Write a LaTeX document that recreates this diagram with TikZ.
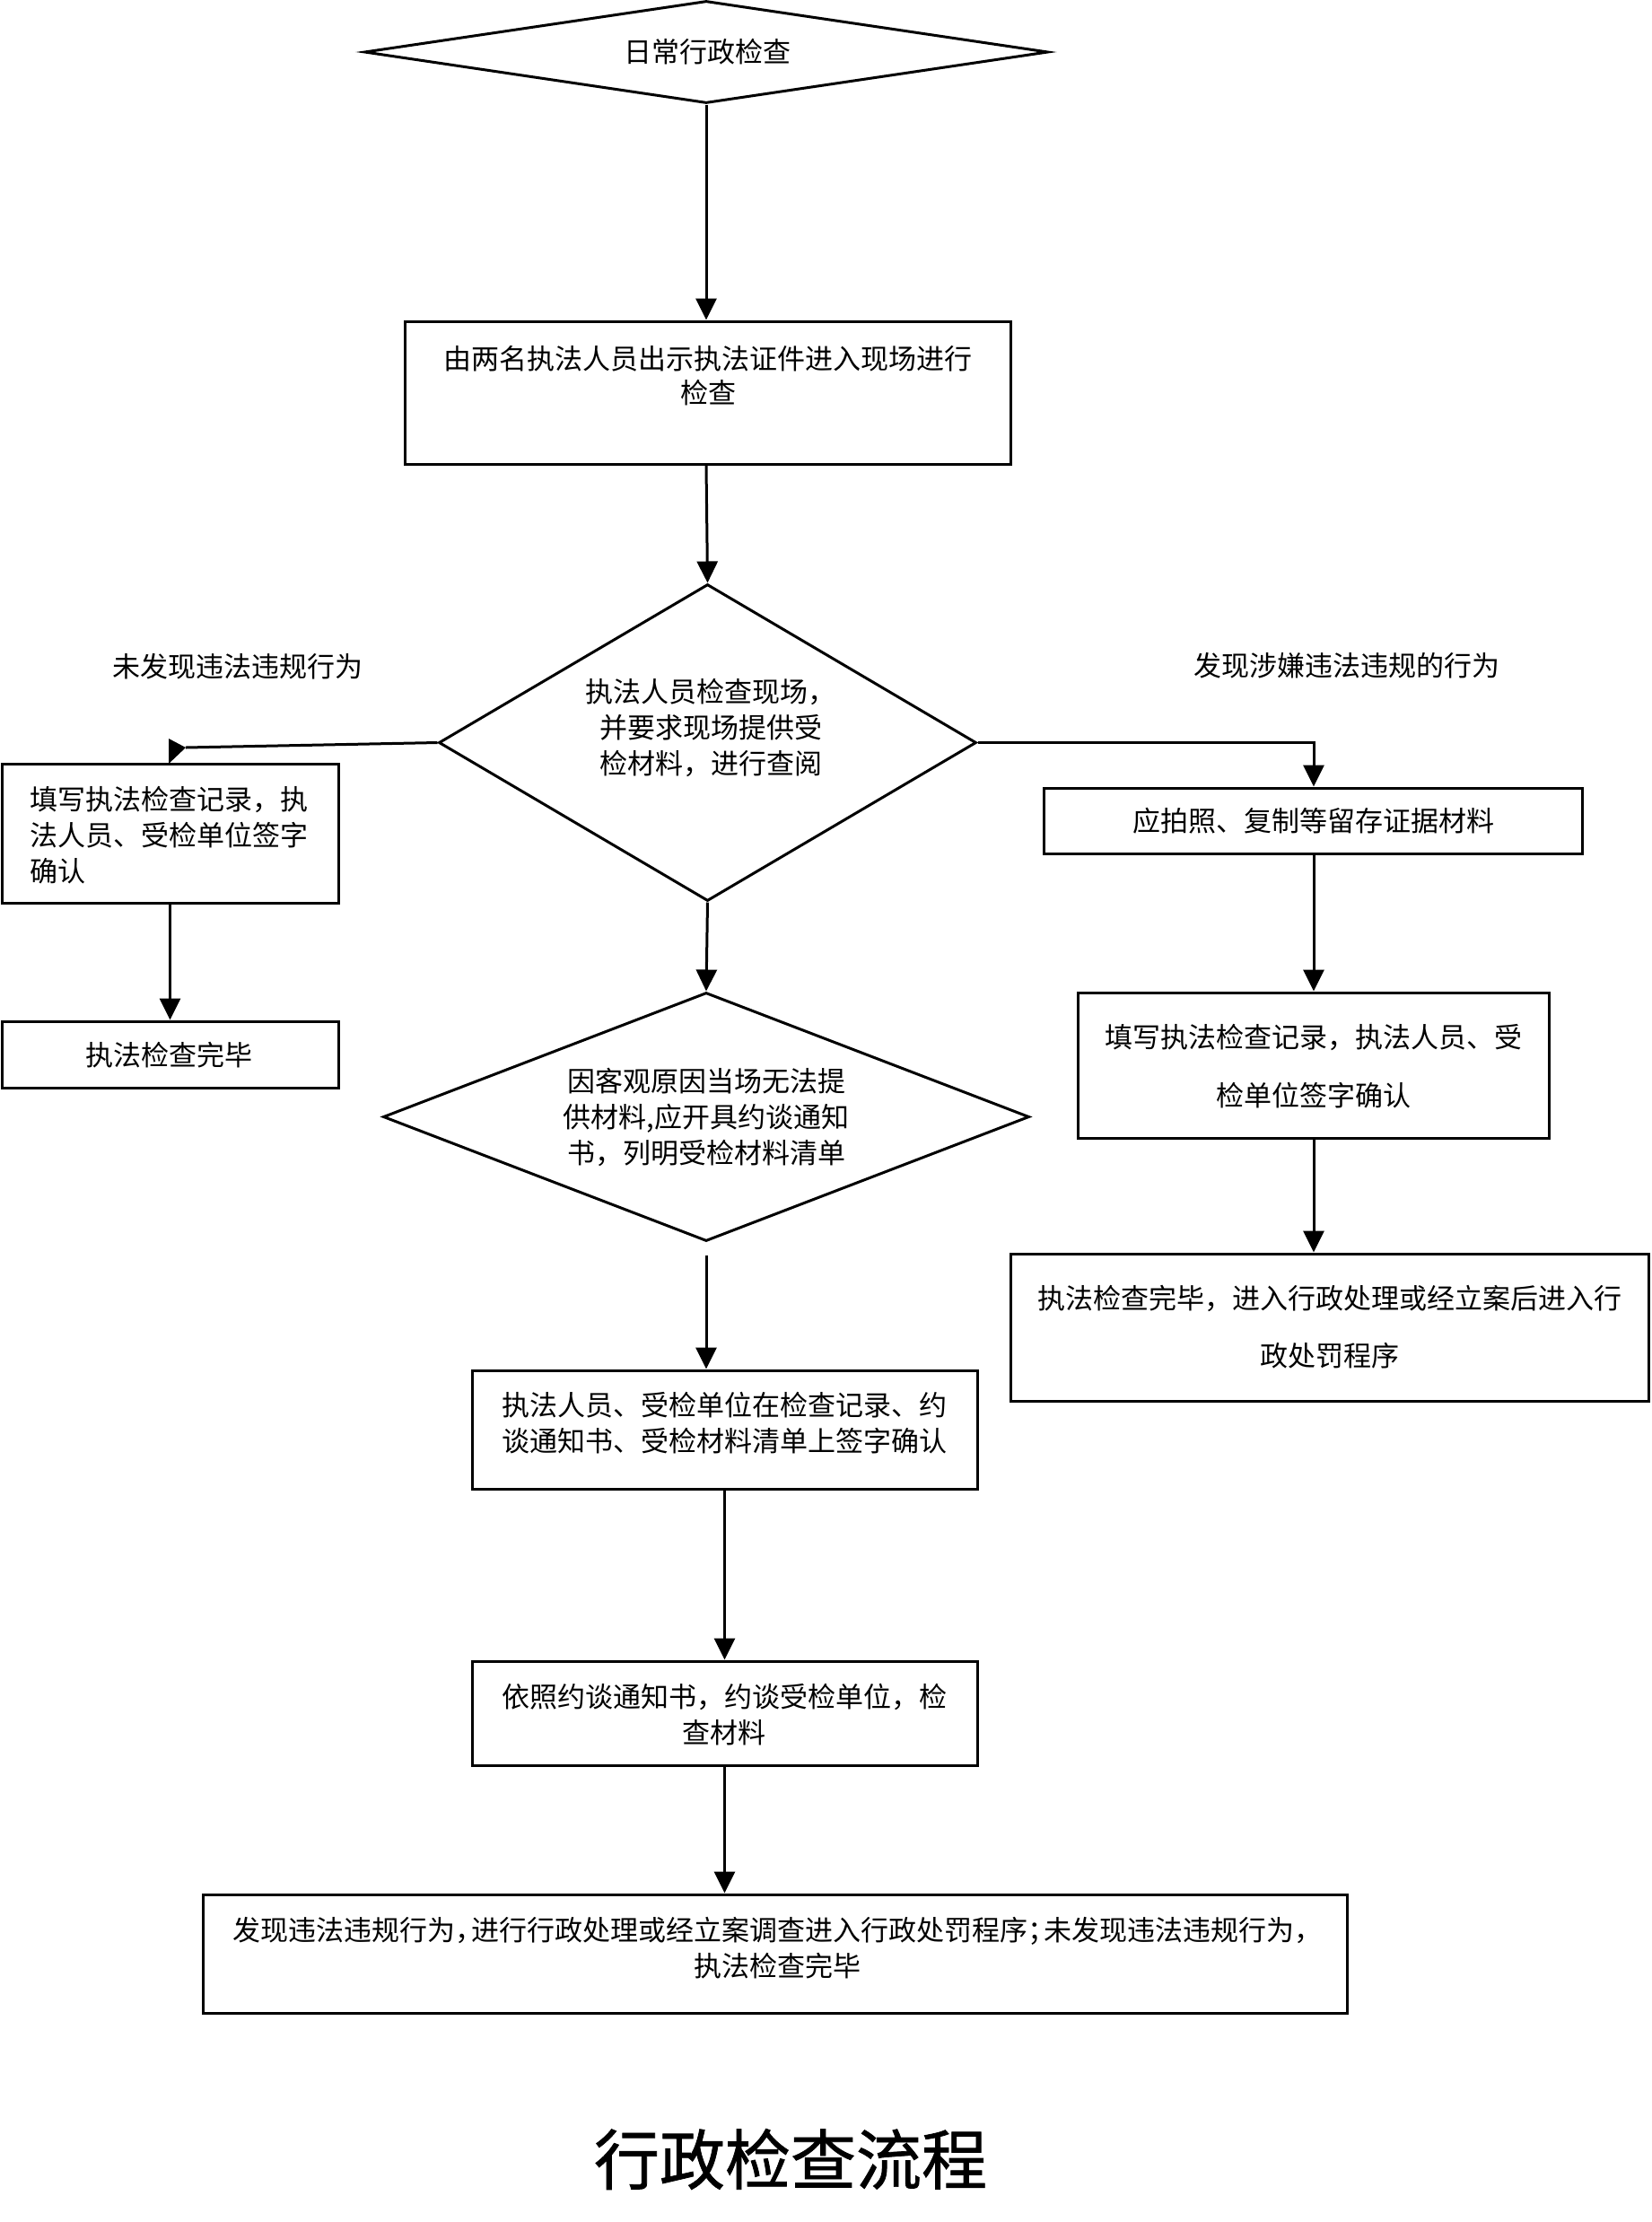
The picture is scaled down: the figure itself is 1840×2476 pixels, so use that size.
\documentclass[tikz,border=0pt]{standalone}
\usepackage{fontspec}
\setmainfont{Noto Sans CJK SC}
\newfontfamily\titlefont[FakeBold=1]{Noto Sans CJK SC}
\usetikzlibrary{shapes.geometric,arrows.meta}
\begin{document}
\begin{tikzpicture}[x=1pt,y=-1pt,
  box/.style={draw=black, line width=3pt, rectangle, inner sep=0pt},
  dia/.style={draw=black, line width=3pt, diamond, inner sep=0pt, aspect=1},
  arr/.style={line width=3pt, -{Triangle[length=24pt,width=23pt]}},
  txt/.style={inner sep=0pt, align=center, font=\fontsize{31pt}{40pt}\selectfont},
  wide/.style={inner sep=0pt, align=center, font=\fontsize{31pt}{64.5pt}\selectfont},
  ttl/.style={inner sep=0pt, font=\titlefont\fontsize{73pt}{80pt}\selectfont}]
\useasboundingbox[fill=white] (0,0) rectangle (1840,2476);

% shapes
\node[dia, minimum width=762pt, minimum height=114pt] (d1) at (787,58) {};
\node[box, minimum width=675pt, minimum height=159pt] (b1) at (788.5,437.5) {};
\node[dia, minimum width=599pt, minimum height=353pt] (d2) at (788.5,827.5) {};
\node[box, minimum width=375pt, minimum height=155pt] (l1) at (189.5,928.5) {};
\node[box, minimum width=375pt, minimum height=74pt] (l2) at (189.5,1175) {};
\node[box, minimum width=600pt, minimum height=73pt] (r1) at (1463,914.5) {};
\node[box, minimum width=525pt, minimum height=162pt] (r2) at (1463.5,1187) {};
\node[box, minimum width=711pt, minimum height=164pt] (r3) at (1481.5,1479) {};
\node[dia, minimum width=720pt, minimum height=277pt] (d3) at (787,1244.5) {};
\node[box, minimum width=563pt, minimum height=132pt] (m1) at (807.5,1593) {};
\node[box, minimum width=563pt, minimum height=116pt] (m2) at (807.5,1909) {};
\node[box, minimum width=1275pt, minimum height=132pt] (m3) at (863.5,2177) {};

% texts
\node[txt] (t1) at (788,58) {日常行政检查};
\node[txt, font=\fontsize{31pt}{38pt}\selectfont] (tb1) at (789,418.5) {由两名执法人员出示执法证件进入现场进行\\检查};
\node[txt] (td2) at (792,811) {执法人员检查现场，\\并要求现场提供受\\检材料，进行查阅};
\node[txt] (tno) at (265,743) {未发现违法违规行为};
\node[txt] (tyes) at (1501,742) {发现涉嫌违法违规的行为};
\node[txt, align=left, anchor=west] (tl1) at (33,931) {填写执法检查记录，执\\法人员、受检单位签字\\确认};
\node[txt] (tl2) at (188,1176) {执法检查完毕};
\node[txt] (tr1) at (1464,915) {应拍照、复制等留存证据材料};
\node[wide] (tr2) at (1464,1188) {填写执法检查记录，执法人员、受\\检单位签字确认};
\node[wide] (tr3) at (1482,1478.5) {执法检查完毕，进入行政处理或经立案后进入行\\政处罚程序};
\node[txt] (td3) at (787,1245) {因客观原因当场无法提\\供材料,应开具约谈通知\\书，列明受检材料清单};
\node[txt] (tm1) at (807,1586) {执法人员、受检单位在检查记录、约\\谈通知书、受检材料清单上签字确认};
\node[txt] (tm2) at (807,1910.5) {依照约谈通知书，约谈受检单位，检\\查材料};
\node[txt] (tm3) at (866,2170.5) {发现违法违规行为\makebox[18pt][l]{，}进行行政处理或经立案调查进入行政处罚程序\makebox[18pt][l]{；}未发现违法违规行为，\\执法检查完毕};
\node[ttl] (title) at (881,2406) {行政检查流程};

% connectors
\draw[arr] (d1.south) -- (d1.south |- b1.north);
\draw[arr] (d1.south |- b1.south) -- (d2.north);
\coordinate (ltip) at (207,833);
\draw[line width=3pt] (d2.west) -- (ltip);
\fill (ltip) -- (188,823) -- (188,851) -- cycle;
\draw[arr] (d2.east) -| (r1.north -| 1464,0);
\draw[arr] (r1.south -| 1464,0) -- (r2.north -| 1464,0);
\draw[arr] (r2.south -| 1464,0) -- (r3.north -| 1464,0);
\draw[arr] (l1.south) -- (l2.north);
\draw[arr] (d2.south) -- (d3.north);
\draw[arr, shorten <=14pt] (d3.south) -- (d3.south |- m1.north);
\draw[arr] (m1.south) -- (m2.north);
\draw[arr] (m2.south) -- (m2.south |- m3.north);
\end{tikzpicture}
\end{document}
